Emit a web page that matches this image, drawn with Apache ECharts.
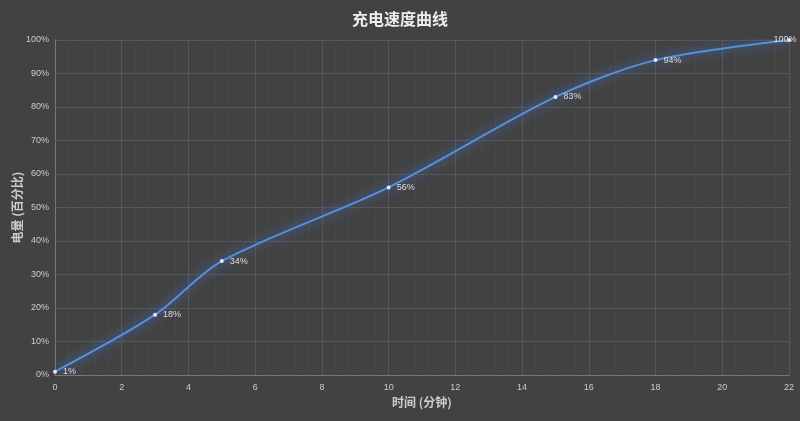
<!DOCTYPE html>
<html><head><meta charset="utf-8">
<script src="https://cdn.jsdelivr.net/npm/echarts@6/dist/echarts.min.js"></script>
<style>html,body{margin:0;padding:0;background:#424242;}#c{width:800px;height:421px;}</style>
</head><body><div id="c"></div>
<script>
const titleText = '充电速度曲线';
const xName = '时间 (分钟)';
const yName = '电量 (百分比)';
const minutes = [0, 3, 5, 10, 15, 18, 22];
const percent = [1, 18, 34, 56, 83, 94, 100];

const data = minutes.map((m, i) => {
  const d = { value: [m, percent[i]] };
  if (i === minutes.length - 1) d.label = { position: 'inside', offset: [-4, 0] };
  return d;
});

const chart = echarts.init(document.getElementById('c'));
chart.setOption({
  backgroundColor: '#424242',
  animation: false,
  title: { text: titleText, left: 'center', top: 6,
    textStyle: { color: '#eeeeee', fontSize: 16, fontWeight: 'bold', fontFamily: 'Noto Sans CJK SC' } },
  grid: { left: 55, right: 11, top: 40, bottom: 46, containLabel: false, outerBoundsMode: 'none' },
  xAxis: {
    type: 'value', min: 0, max: 22, interval: 2,
    name: xName, nameLocation: 'middle', nameGap: 21, nameMoveOverlap: false,
    nameTextStyle: { color: '#cccccc', fontSize: 12, fontWeight: 'bold', fontFamily: 'Noto Sans CJK SC' },
    axisLine: { lineStyle: { color: '#777777' } },
    axisTick: { show: false },
    axisLabel: { color: '#cccccc', fontSize: 9, margin: 8 },
    splitLine: { lineStyle: { color: '#575757' } },
    minorTick: { show: false, splitNumber: 5 },
    minorSplitLine: { show: true, lineStyle: { color: '#474747' } }
  },
  yAxis: {
    type: 'value', min: 0, max: 100, interval: 10,
    name: yName, nameLocation: 'middle', nameGap: 32, nameMoveOverlap: false,
    nameTextStyle: { color: '#cccccc', fontSize: 12, fontWeight: 'bold', fontFamily: 'Noto Sans CJK SC' },
    axisLine: { show: true, lineStyle: { color: '#777777' } },
    axisTick: { show: false },
    axisLabel: { color: '#cccccc', fontSize: 9, formatter: '{value}%', margin: 6 },
    splitLine: { lineStyle: { color: '#575757' } }
  },
  series: [{
    type: 'line', data: data, smooth: 0.3,
    symbol: 'circle', symbolSize: 4,
    itemStyle: { color: '#dfe9ff' },
    lineStyle: { color: '#5590e0', width: 2, shadowColor: 'rgba(70,130,255,1)', shadowBlur: 12 },
    label: { show: true, position: 'right', distance: 6, color: '#dddddd', fontSize: 9,
      formatter: p => p.value[1] + '%' }
  }]
});
</script></body></html>
